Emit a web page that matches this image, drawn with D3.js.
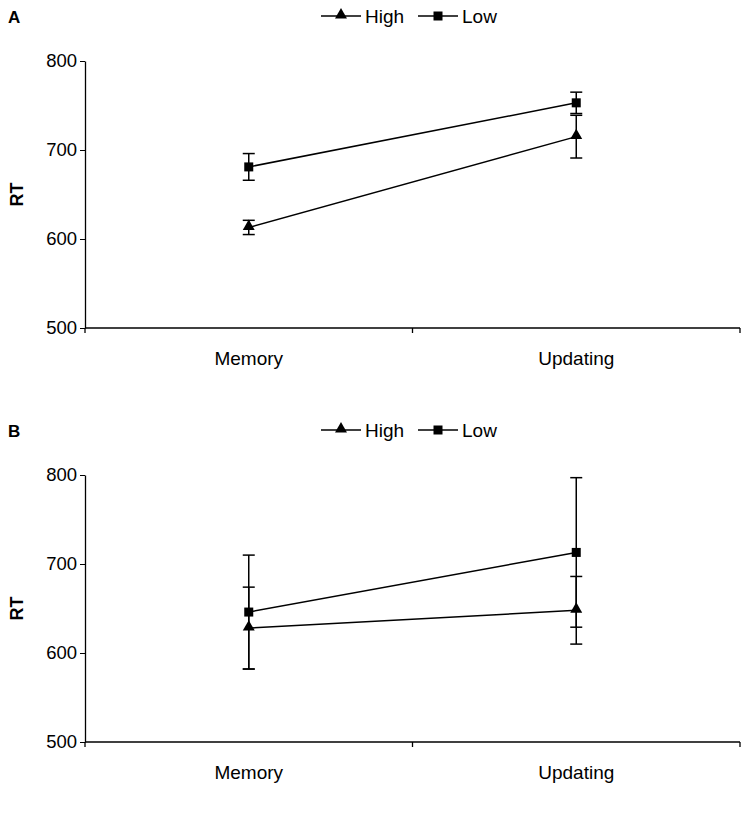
<!DOCTYPE html>
<html>
<head>
<meta charset="utf-8">
<script src="https://cdn.jsdelivr.net/npm/d3@7"></script>
<style>
  body { margin: 0; background: #fff; }
  text { font-family: "Liberation Sans", Arial, sans-serif; }
</style>
</head>
<body>
<script>
// categories and series
var categories = ["Memory", "Updating"];
var seriesNames = ["High", "Low"];
var yTicks = [500, 600, 700, 800];

// panel A
var highA = [613, 715];
var highAErr = [8, 24];
var lowA = [681, 753];
var lowAErr = [15, 12];

// panel B
var highB = [628, 648];
var highBErr = [46, 38];
var lowB = [646, 713];
var lowBErr = [64, 84];

var panels = [
  { label: "A", top: 0, series: [
      { name: "High", mean: highA, err: highAErr, shape: "tri" },
      { name: "Low", mean: lowA, err: lowAErr, shape: "sq" }] },
  { label: "B", top: 414, series: [
      { name: "High", mean: highB, err: highBErr, shape: "tri" },
      { name: "Low", mean: lowB, err: lowBErr, shape: "sq" }] }
];

var svg = d3.select("body").append("svg")
  .attr("width", 742).attr("height", 816);

var x = d3.scalePoint().domain(categories).range([85, 740]).padding(0.5);
var y = d3.scaleLinear().domain([500, 800]).range([328, 61]);

function marker(g, shape, cx, cy) {
  if (shape === "tri") {
    g.append("path")
      .attr("d", d3.symbol().type(d3.symbolTriangle).size(62)())
      .attr("transform", "translate(" + cx + "," + (cy - 1) + ")")
      .attr("fill", "#000");
  } else {
    g.append("rect")
      .attr("x", cx - 4.5).attr("y", cy - 4.5)
      .attr("width", 9).attr("height", 9)
      .attr("fill", "#000");
  }
}

panels.forEach(function (p) {
  var g = svg.append("g").attr("transform", "translate(0," + p.top + ")");

  g.append("text").text(p.label)
    .attr("x", 8).attr("y", 23)
    .attr("font-size", 17).attr("font-weight", "bold");

  // legend
  var lx = [321, 418];
  p.series.forEach(function (s, i) {
    var lg = g.append("g");
    lg.append("line")
      .attr("x1", lx[i]).attr("x2", lx[i] + 40)
      .attr("y1", 16).attr("y2", 16)
      .attr("stroke", "#000").attr("stroke-width", 1.3);
    marker(lg, s.shape, lx[i] + 20, 16);
    lg.append("text").text(s.name)
      .attr("x", lx[i] + 44).attr("y", 23)
      .attr("font-size", 19);
  });

  // y axis
  var yAxis = g.append("g").attr("transform", "translate(85,0)")
    .call(d3.axisLeft(y).tickValues(yTicks).tickSize(5).tickPadding(3).tickSizeOuter(0));
  yAxis.select(".domain").attr("stroke-width", 1.3);
  yAxis.selectAll("text").attr("font-size", 18.5).attr("fill", "#000")
    .style("font-family", "'Liberation Sans', Arial, sans-serif");

  // x axis with category boundaries
  var xb = g.append("g").attr("transform", "translate(0," + y(500) + ")");
  xb.append("line").attr("x1", 85).attr("x2", 740)
    .attr("stroke", "#000").attr("stroke-width", 1.3);
  var bounds = [85, (x(categories[0]) + x(categories[1])) / 2, 740];
  xb.selectAll(".bt").data(bounds).enter().append("line")
    .attr("x1", function (d) { return d; }).attr("x2", function (d) { return d; })
    .attr("y1", 0).attr("y2", 5)
    .attr("stroke", "#000").attr("stroke-width", 1.3);
  xb.selectAll(".cl").data(categories).enter().append("text")
    .text(function (d) { return d; })
    .attr("x", function (d) { return x(d); })
    .attr("y", 37)
    .attr("text-anchor", "middle")
    .attr("font-size", 19);

  g.append("text").text("RT")
    .attr("transform", "translate(23," + ((y(800) + y(500)) / 2) + ") rotate(-90)")
    .attr("text-anchor", "middle")
    .attr("font-size", 18).attr("font-weight", "bold");

  // series
  p.series.forEach(function (s) {
    var sg = g.append("g");
    var pts = categories.map(function (c, i) { return [x(c), y(s.mean[i])]; });
    sg.append("path").attr("d", d3.line()(pts))
      .attr("fill", "none").attr("stroke", "#000").attr("stroke-width", 1.5);
    categories.forEach(function (c, i) {
      var cx = x(c);
      var top = y(s.mean[i] + s.err[i]), bot = y(s.mean[i] - s.err[i]);
      sg.append("line").attr("x1", cx).attr("x2", cx).attr("y1", top).attr("y2", bot)
        .attr("stroke", "#000").attr("stroke-width", 1.5);
      [top, bot].forEach(function (yy) {
        sg.append("line").attr("x1", cx - 6).attr("x2", cx + 6).attr("y1", yy).attr("y2", yy)
          .attr("stroke", "#000").attr("stroke-width", 1.5);
      });
      marker(sg, s.shape, cx, y(s.mean[i]));
    });
  });
});
</script>
</body>
</html>
